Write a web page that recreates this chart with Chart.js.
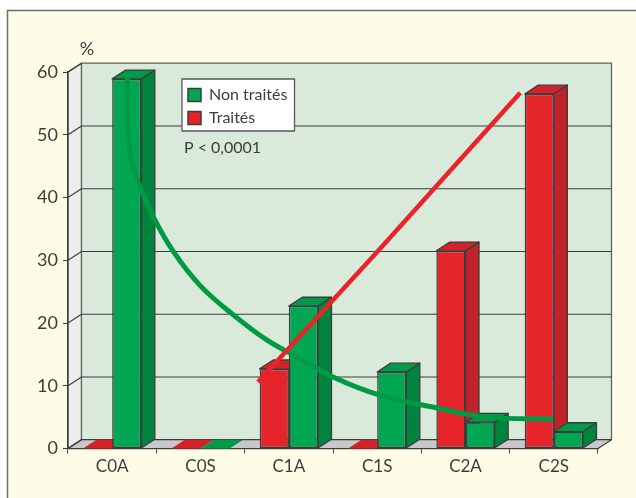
<!DOCTYPE html>
<html><head><meta charset="utf-8">
<style>html,body{margin:0;padding:0;background:#fff}canvas{display:block}</style>
<script src="https://cdn.jsdelivr.net/npm/chart.js@4"></script></head>
<body><canvas id="c" width="636" height="498"></canvas>
<script>
const categories = ['C0A','C0S','C1A','C1S','C2A','C2S'];
const nonTraites = [58.9,0,22.7,12.2,4.2,2.7];
const traites = [0,0,12.7,0,31.5,56.5];
const yTicks = [0,10,20,30,40,50,60];
const curveGreenX = [0.171,0.175,0.21,0.315,0.466,0.692,0.994,1.371,1.75,2.09,2.5,3.03,3.68,4.24,4.99];
const curveGreenY = [59.25,52.35,46.5,41.7,36.9,31.4,26,21.3,17.3,14.6,11.4,8.5,6.45,5,4.7];
const curveRedX = [1.65,3.03,4.62];
const curveRedY = [10.6,31.8,56.7];
const unitLabel = '%';
const pLabel = 'P < 0,0001';

const DX = 13.5, DY = -8.8, INK = '#3b3d3d', FONT = 'Lato', GROUP = 0.66;
const shade = {
  0:{side:'#bf242b',top:'#d2232a'},
  1:{side:'#00843d',top:'#009a4a'}
};
function poly(ctx, pts, fill, stroke, lw){
  ctx.beginPath();
  pts.forEach((p,i)=> i?ctx.lineTo(p[0],p[1]):ctx.moveTo(p[0],p[1]));
  ctx.closePath();
  if(fill){ctx.fillStyle=fill;ctx.fill();}
  if(stroke){ctx.strokeStyle=stroke;ctx.lineWidth=lw||1.3;ctx.lineJoin='round';ctx.stroke();}
}
const scene = {
  id:'scene',
  afterDatasetsUpdate(chart){
    const xs=chart.scales.x, w=xs.width/categories.length*GROUP/2;
    [0,1].forEach(i=>chart.getDatasetMeta(i).data.forEach((el,j)=>{
      el.x=xs.getPixelForValue(j)+(i===0?-w/2:w/2);
      el.width=w;
    }));
  },
  beforeDraw(chart){
    const ctx=chart.ctx, y=chart.scales.y, a=chart.chartArea;
    ctx.save();
    ctx.fillStyle='#fff';ctx.fillRect(0,0,636,498);
    ctx.fillStyle='#fefce6';ctx.fillRect(7,10,629,488);
    ctx.strokeStyle='#6e6e6e';ctx.lineWidth=1.5;
    ctx.beginPath();ctx.moveTo(7.5,498);ctx.lineTo(7.5,10.5);ctx.lineTo(636,10.5);ctx.stroke();
    const y0=y.getPixelForValue(0), yT=y.getPixelForValue(60);
    poly(ctx,[[a.left,y0],[a.left,yT],[a.left+DX,yT+DY],[a.left+DX,y0+DY]],'#eceeec',INK,1.2);
    poly(ctx,[[a.left+DX,yT+DY],[a.right+DX,yT+DY],[a.right+DX,y0+DY],[a.left+DX,y0+DY]],'#d9eada','#5a5e5c',1.2);
    poly(ctx,[[a.left,y0],[a.right,y0],[a.right+DX,y0+DY],[a.left+DX,y0+DY]],'#c8c8cc',INK,1.2);
    ctx.strokeStyle=INK;ctx.lineWidth=1.1;
    yTicks.forEach(v=>{
      const p=y.getPixelForValue(v);
      ctx.beginPath();ctx.moveTo(a.left,p);ctx.lineTo(a.left+DX,p+DY);
      if(v>0&&v<60)ctx.lineTo(a.right+DX,p+DY);
      ctx.stroke();
    });
    const L=chart.legend;
    if(L){
      L.left=181;L.top=80;L.right=L.left+L.width;L.bottom=L.top+L.height;
      poly(ctx,[[182,79],[294.5,79],[294.5,131],[182,131]],'#fff','#55585a',1.3);
    }
    ctx.restore();
  },
  beforeDatasetsDraw(chart){
    const ctx=chart.ctx;
    ctx.save();
    categories.forEach((_,j)=>{
      [0,1].forEach(i=>{
        const el=chart.getDatasetMeta(i).data[j];
        const {x,y,base,width}=el.getProps(['x','y','base','width'],true);
        const l=x-width/2,r=x+width/2;
        if(base-y>0.5) poly(ctx,[[r,y],[r+DX,y+DY],[r+DX,base+DY],[r,base]],shade[i].side,INK);
        poly(ctx,[[l,y],[l+DX,y+DY],[r+DX,y+DY],[r,y]],shade[i].top,(base-y>0.5)?INK:null);
      });
    });
    ctx.restore();
  },
  afterDraw(chart){
    const ctx=chart.ctx;
    ctx.save();
    ctx.fillStyle=INK;ctx.textBaseline='middle';
    ctx.font='18px '+FONT;ctx.textAlign='center';
    ctx.fillText(unitLabel,87,49);
    ctx.font='16px '+FONT;ctx.textAlign='left';
    ctx.fillText(pLabel,184,148);
    ctx.restore();
  }
};
const toPts=(xs,ys)=>xs.map((x,i)=>({x,y:ys[i]}));
new Chart(document.getElementById('c'),{
  type:'bar',
  data:{labels:categories,datasets:[
    {type:'bar',label:'Traités',data:traites,backgroundColor:'#e6252a',borderColor:INK,borderWidth:1.5,borderSkipped:false,order:2},
    {type:'bar',label:'Non traités',data:nonTraites,backgroundColor:'#00a651',borderColor:INK,borderWidth:1.5,borderSkipped:false,order:3},
    {type:'line',label:'Courbe non traités',data:toPts(curveGreenX,curveGreenY),xAxisID:'xc',borderColor:'#009a44',borderWidth:5,pointRadius:0,fill:false,tension:0.4,order:1},
    {type:'line',label:'Courbe traités',data:toPts(curveRedX,curveRedY),xAxisID:'xc',borderColor:'#e8232a',borderWidth:4.5,pointRadius:0,fill:false,tension:0,order:0}
  ]},
  options:{
    responsive:false,animation:false,
    layout:{padding:{top:72,right:38,left:0,bottom:0}},
    plugins:{
      tooltip:{enabled:false},
      legend:{
        display:true,position:'chartArea',align:'start',
        labels:{
          boxWidth:13,boxHeight:13,padding:7,color:INK,font:{family:FONT,size:16},
          filter:i=>i.datasetIndex<2,
          sort:(a,b)=>b.datasetIndex-a.datasetIndex
        }
      }
    },
    scales:{
      x:{
        type:'category',
        afterFit:s=>{s.height=49.5;},
        border:{color:INK,width:1.3},
        grid:{drawOnChartArea:false,drawTicks:true,tickLength:5,color:INK,offset:true},
        ticks:{color:INK,font:{family:FONT,size:17},padding:3,maxRotation:0}
      },
      xc:{type:'linear',display:false,min:-0.5,max:5.5,offset:false,grid:{offset:false}},
      y:{
        min:0,max:60,
        afterFit:s=>{s.width=68;},
        afterBuildTicks:s=>{s.ticks=yTicks.map(v=>({value:v}));},
        border:{color:INK,width:1.3},
        grid:{drawOnChartArea:false,drawTicks:true,tickLength:5,color:INK},
        ticks:{color:INK,font:{family:FONT,size:18},padding:5}
      }
    }
  },
  plugins:[scene]
});
</script></body></html>
